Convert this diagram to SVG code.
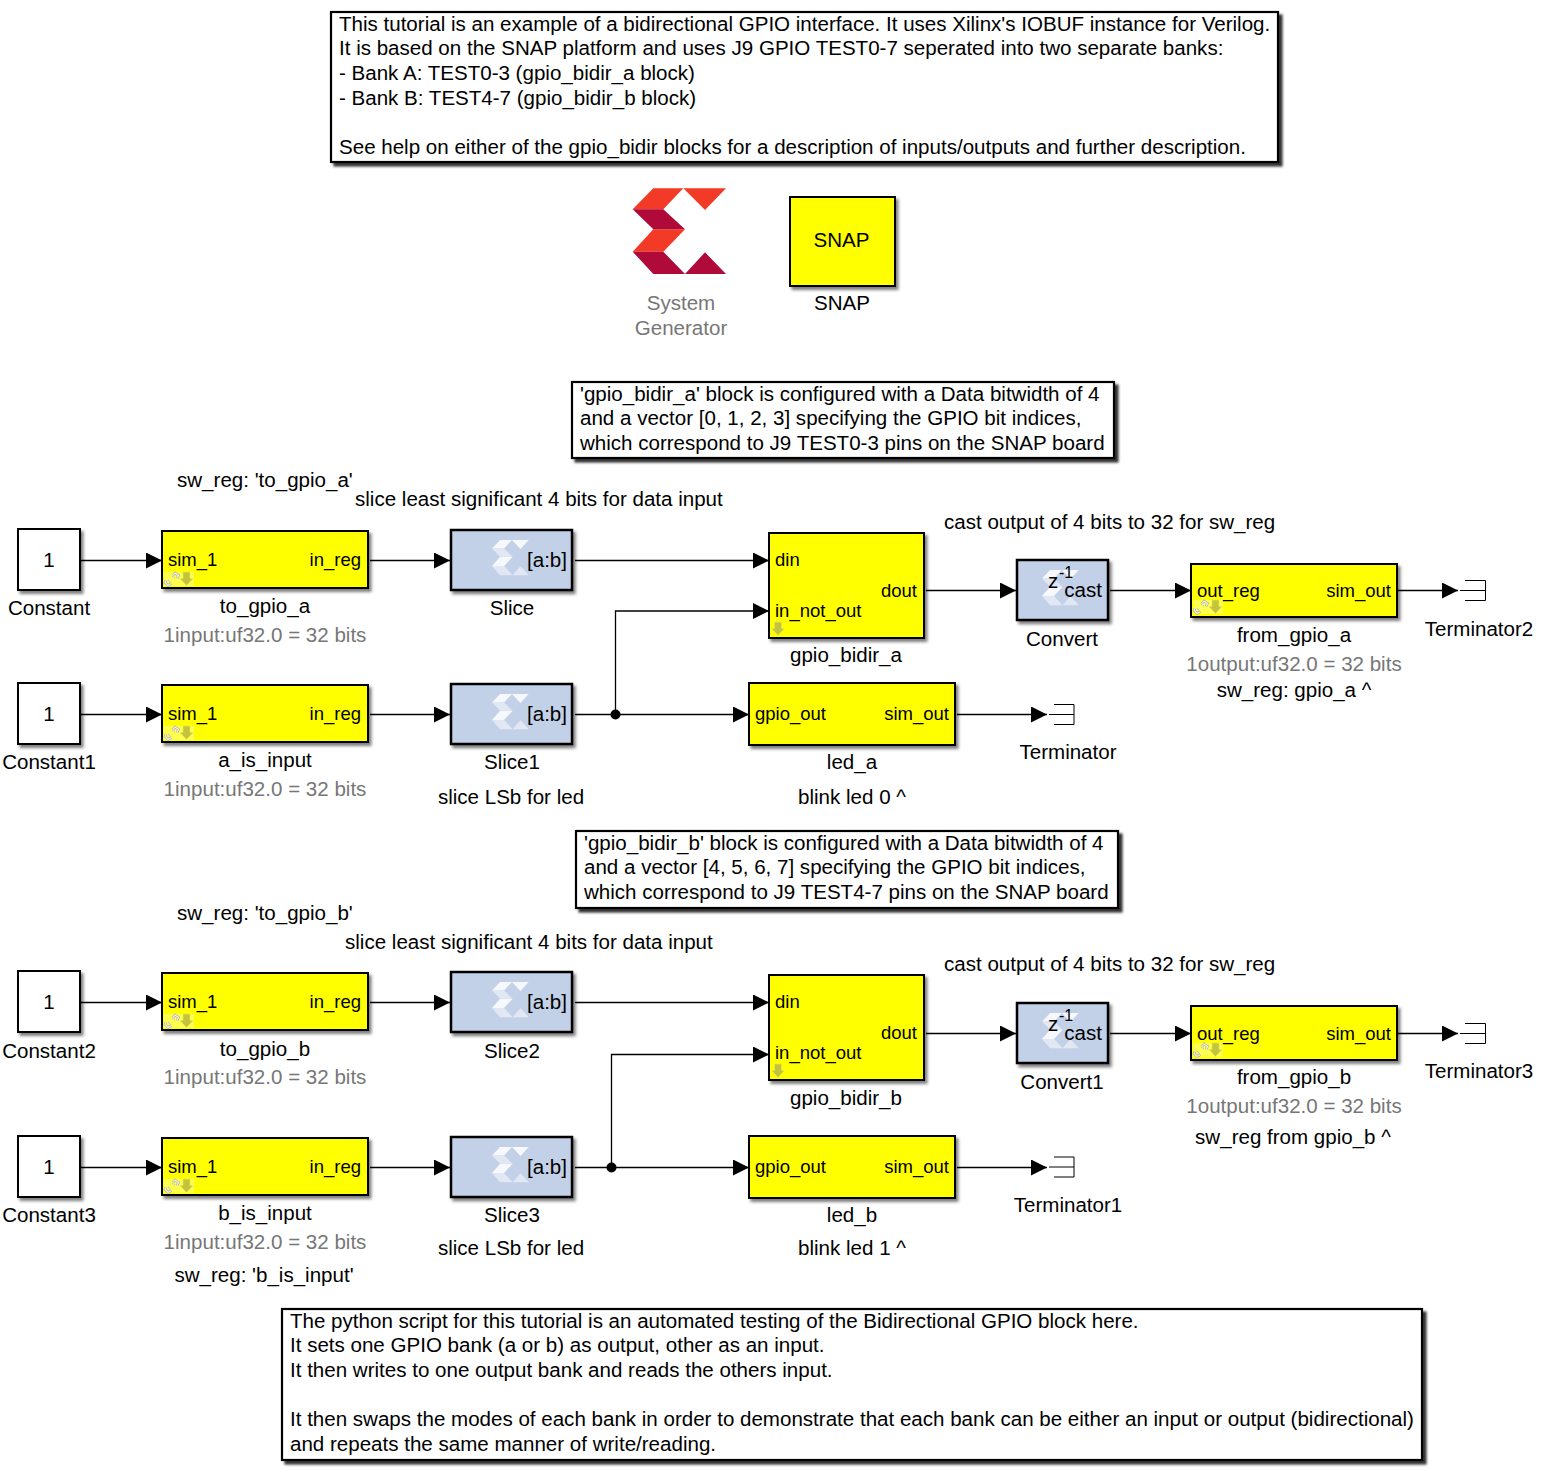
<svg xmlns="http://www.w3.org/2000/svg" width="1543" height="1471" viewBox="0 0 1543 1471">
<style>
text{font-family:"Liberation Sans",Arial,sans-serif;font-size:20.55px;fill:#000}
.m{text-anchor:middle}
.e{text-anchor:end}
.g{fill:#777}
.p{font-size:18.5px}
.s{font-size:16px}
.n{fill:#fff;stroke:#000;stroke-width:2;filter:url(#sh)}
.d{fill:#fff;stroke:#000;stroke-width:2.2;filter:url(#sd)}
.y{fill:#ff0;stroke:#000;stroke-width:2;filter:url(#sh)}
.b{fill:#c3d1e8;stroke:#000;stroke-width:2.5;filter:url(#sh)}
.c{fill:none;stroke:#000;stroke-width:1.3}
.t{fill:none;stroke:#000;stroke-width:1}
</style>
<defs>
<filter id="sh" x="-10%" y="-10%" width="120%" height="125%"><feDropShadow dx="2.5" dy="3" stdDeviation="1.5" flood-color="#000" flood-opacity="0.5"/></filter>
<filter id="sd" x="-5%" y="-10%" width="110%" height="125%"><feDropShadow dx="3.5" dy="3.5" stdDeviation="1.2" flood-color="#000" flood-opacity="0.8"/></filter>
<marker id="a" markerUnits="userSpaceOnUse" markerWidth="16" markerHeight="16" refX="16" refY="8" orient="auto"><path d="M0 0L16 8L0 16Z" fill="#000"/></marker>
<g id="logo">
<path d="M653.3 188.3H683.3L663.3 209.3H632.7Z M683.3 188.3H726L705 210Z M653.3 229.3H685L663.3 251.7H632.7Z" fill="#f33a27"/>
<path d="M632.7 209.3H663.3L685 229.3H653.3Z M632.7 251.7H663.3L685 274H653.3Z M685 274L705 252.3L726 274Z" fill="#b00a3a"/>
</g>
<g id="mini" transform="translate(492 540) scale(.394 .41) translate(-632.7 -188.3)">
<path d="M653.3 188.3H683.3L663.3 209.3H632.7Z M683.3 188.3H726L705 210Z M653.3 229.3H685L663.3 251.7H632.7Z" fill="#f6f8fc"/>
<path d="M632.7 209.3H663.3L685 229.3H653.3Z M632.7 251.7H663.3L685 274H653.3Z M685 274L705 252.3L726 274Z" fill="#e2e8f3"/>
</g>
<path id="dn" d="M-3.5 0H3.5V6.5H6.5L0 13.5L-6.5 6.5H-3.5Z" fill="#c4c43a" stroke="#e6e65a" stroke-width=".7"/>
<path id="lp" d="M2 8.5L1 10.5L4 13.5L7.5 11.5 M9 3.5L11 1L14.5 3.5L13 6.5 M4.5 9.5L5.5 8.5 M9 5.5L10 4.5"/>
<g id="ic"><rect x="0" y="0" width="30" height="14" fill="#ffff80" opacity=".6"/><use href="#lp" fill="none" stroke="#b5b5a5" stroke-width="2.6"/><use href="#lp" fill="none" stroke="#f2f2e8" stroke-width="1.1"/><use href="#dn" x="22.5" y="0"/></g>
</defs>

<g id="connectors">
<path class="c" marker-end="url(#a)" d="M81 560.5H162"/>
<path class="c" marker-end="url(#a)" d="M370 560.5H450"/>
<path class="c" marker-end="url(#a)" d="M575 560.5H769"/>
<path class="c" marker-end="url(#a)" d="M926 590.5H1016"/>
<path class="c" marker-end="url(#a)" d="M1110 590.5H1191"/>
<path class="c" marker-end="url(#a)" d="M1398 590.5H1458"/>
<path class="c" marker-end="url(#a)" d="M81 714.5H162"/>
<path class="c" marker-end="url(#a)" d="M370 714.5H450"/>
<path class="c" marker-end="url(#a)" d="M575 714.5H749"/>
<path class="c" marker-end="url(#a)" d="M615.5 714.5V611H769"/>
<path class="c" marker-end="url(#a)" d="M957 714.5H1047"/>
<circle cx="615.5" cy="714.5" r="5" fill="#000"/>
<path class="c" marker-end="url(#a)" d="M81 1002.5H162"/>
<path class="c" marker-end="url(#a)" d="M370 1002.5H450"/>
<path class="c" marker-end="url(#a)" d="M575 1002.5H769"/>
<path class="c" marker-end="url(#a)" d="M926 1033.5H1016"/>
<path class="c" marker-end="url(#a)" d="M1110 1033.5H1191"/>
<path class="c" marker-end="url(#a)" d="M1398 1033.5H1458"/>
<path class="c" marker-end="url(#a)" d="M81 1167.5H162"/>
<path class="c" marker-end="url(#a)" d="M370 1167.5H450"/>
<path class="c" marker-end="url(#a)" d="M575 1167.5H749"/>
<path class="c" marker-end="url(#a)" d="M611.5 1167.5V1054.5H769"/>
<path class="c" marker-end="url(#a)" d="M957 1167.5H1047"/>
<circle cx="611.5" cy="1167.5" r="5" fill="#000"/>
</g>

<g id="note_top">
<rect class="d" x="331" y="12" width="947" height="150"/>
<text x="339" y="31">This tutorial is an example of a bidirectional GPIO interface. It uses Xilinx's IOBUF instance for Verilog.</text>
<text x="339" y="55">It is based on the SNAP platform and uses J9 GPIO TEST0-7 seperated into two separate banks:</text>
<text x="339" y="80">- Bank A: TEST0-3 (gpio_bidir_a block)</text>
<text x="339" y="105">- Bank B: TEST4-7 (gpio_bidir_b block)</text>
<text x="339" y="154">See help on either of the gpio_bidir blocks for a description of inputs/outputs and further description.</text>
</g>
<g id="sysgen">
<use href="#logo"/>
<text class="m g" x="681" y="310">System</text>
<text class="m g" x="681" y="335">Generator</text>
</g>
<g id="snap">
<rect class="y" x="790" y="197" width="105" height="89"/>
<text class="m" x="841.5" y="247">SNAP</text>
<text class="m" x="842" y="310">SNAP</text>
</g>

<g id="note_a">
<rect class="d" x="572" y="382" width="542" height="76"/>
<text x="580" y="401">'gpio_bidir_a' block is configured with a Data bitwidth of 4</text>
<text x="580" y="425">and a vector [0, 1, 2, 3] specifying the GPIO bit indices,</text>
<text x="580" y="450">which correspond to J9 TEST0-3 pins on the SNAP board</text>
</g>
<g id="labels_a">
<text x="177" y="487">sw_reg: 'to_gpio_a'</text>
<text x="355" y="506">slice least significant 4 bits for data input</text>
<text x="944" y="529">cast output of 4 bits to 32 for sw_reg</text>
</g>

<g id="Constant"><rect class="n" x="18" y="529" width="62" height="61"/><text class="m" x="49" y="567">1</text><text class="m" x="49" y="615">Constant</text></g>
<g id="to_gpio_a"><rect class="y" x="162" y="531" width="206" height="57"/><text class="p" x="168" y="566">sim_1</text><text class="p e" x="361" y="566">in_reg</text><use href="#ic" x="164" y="572"/><text class="m" x="265" y="613">to_gpio_a</text><text class="m g" x="265" y="642">1input:uf32.0 = 32 bits</text></g>
<g id="Slice"><rect class="b" x="451" y="530" width="121" height="60"/><use href="#mini"/><text class="e" x="567" y="567">[a:b]</text><text class="m" x="512" y="615">Slice</text></g>
<g id="gpio_bidir_a"><rect class="y" x="769" y="533" width="155" height="105"/><text class="p" x="775" y="566">din</text><text class="p e" x="917" y="597">dout</text><text class="p" x="775" y="617">in_not_out</text><use href="#dn" x="778" y="622"/><text class="m" x="846" y="662">gpio_bidir_a</text></g>
<g id="Convert"><rect class="b" x="1017" y="560" width="91" height="60"/><use href="#mini" x="550" y="30"/><text x="1048" y="588">z</text><text class="s" x="1059" y="578">-1</text><text class="e" x="1102" y="597">cast</text><text class="m" x="1062" y="646">Convert</text></g>
<g id="from_gpio_a"><rect class="y" x="1191" y="564" width="206" height="53"/><text class="p" x="1197" y="597">out_reg</text><text class="p e" x="1391" y="597">sim_out</text><use href="#ic" x="1193" y="600"/><text class="m" x="1294" y="642">from_gpio_a</text><text class="m g" x="1294" y="671">1output:uf32.0 = 32 bits</text><text class="m" x="1294" y="697">sw_reg: gpio_a ^</text></g>
<g id="Terminator2"><path class="t" d="M1460 590.5H1485.5M1465 580.5H1485.5V600.5H1465"/><text class="m" x="1479" y="636">Terminator2</text></g>

<g id="Constant1"><rect class="n" x="18" y="683" width="62" height="61"/><text class="m" x="49" y="721">1</text><text class="m" x="49" y="769">Constant1</text></g>
<g id="a_is_input"><rect class="y" x="162" y="685" width="206" height="57"/><text class="p" x="168" y="720">sim_1</text><text class="p e" x="361" y="720">in_reg</text><use href="#ic" x="164" y="726"/><text class="m" x="265" y="767">a_is_input</text><text class="m g" x="265" y="796">1input:uf32.0 = 32 bits</text></g>
<g id="Slice1"><rect class="b" x="451" y="684" width="121" height="60"/><use href="#mini" y="154"/><text class="e" x="567" y="721">[a:b]</text><text class="m" x="512" y="769">Slice1</text><text class="m" x="511" y="804">slice LSb for led</text></g>
<g id="led_a"><rect class="y" x="749" y="683" width="206" height="62"/><text class="p" x="755" y="720">gpio_out</text><text class="p e" x="949" y="720">sim_out</text><text class="m" x="852" y="769">led_a</text><text class="m" x="852" y="804">blink led 0 ^</text></g>
<g id="Terminator"><path class="t" d="M1049 714.5H1074M1054 704.5H1074V724.5H1054"/><text class="m" x="1068" y="759">Terminator</text></g>

<g id="note_b">
<rect class="d" x="576" y="831" width="542" height="77"/>
<text x="584" y="850">'gpio_bidir_b' block is configured with a Data bitwidth of 4</text>
<text x="584" y="874">and a vector [4, 5, 6, 7] specifying the GPIO bit indices,</text>
<text x="584" y="899">which correspond to J9 TEST4-7 pins on the SNAP board</text>
</g>
<g id="labels_b">
<text x="177" y="920">sw_reg: 'to_gpio_b'</text>
<text x="345" y="949">slice least significant 4 bits for data input</text>
<text x="944" y="971">cast output of 4 bits to 32 for sw_reg</text>
</g>

<g id="Constant2"><rect class="n" x="18" y="971" width="62" height="61"/><text class="m" x="49" y="1009">1</text><text class="m" x="49" y="1058">Constant2</text></g>
<g id="to_gpio_b"><rect class="y" x="162" y="973" width="206" height="57"/><text class="p" x="168" y="1008">sim_1</text><text class="p e" x="361" y="1008">in_reg</text><use href="#ic" x="164" y="1014"/><text class="m" x="265" y="1056">to_gpio_b</text><text class="m g" x="265" y="1084">1input:uf32.0 = 32 bits</text></g>
<g id="Slice2"><rect class="b" x="451" y="972" width="121" height="60"/><use href="#mini" y="442"/><text class="e" x="567" y="1009">[a:b]</text><text class="m" x="512" y="1058">Slice2</text></g>
<g id="gpio_bidir_b"><rect class="y" x="769" y="975" width="155" height="105"/><text class="p" x="775" y="1008">din</text><text class="p e" x="917" y="1039">dout</text><text class="p" x="775" y="1059">in_not_out</text><use href="#dn" x="778" y="1064"/><text class="m" x="846" y="1105">gpio_bidir_b</text></g>
<g id="Convert1"><rect class="b" x="1017" y="1003" width="91" height="60"/><use href="#mini" x="550" y="473"/><text x="1048" y="1031">z</text><text class="s" x="1059" y="1021">-1</text><text class="e" x="1102" y="1040">cast</text><text class="m" x="1062" y="1089">Convert1</text></g>
<g id="from_gpio_b"><rect class="y" x="1191" y="1006" width="206" height="54"/><text class="p" x="1197" y="1040">out_reg</text><text class="p e" x="1391" y="1040">sim_out</text><use href="#ic" x="1193" y="1043"/><text class="m" x="1294" y="1084">from_gpio_b</text><text class="m g" x="1294" y="1113">1output:uf32.0 = 32 bits</text><text class="m" x="1293" y="1144">sw_reg from gpio_b ^</text></g>
<g id="Terminator3"><path class="t" d="M1460 1033.5H1485.5M1465 1023.5H1485.5V1043.5H1465"/><text class="m" x="1479" y="1078">Terminator3</text></g>

<g id="Constant3"><rect class="n" x="18" y="1136" width="62" height="61"/><text class="m" x="49" y="1174">1</text><text class="m" x="49" y="1222">Constant3</text></g>
<g id="b_is_input"><rect class="y" x="162" y="1138" width="206" height="57"/><text class="p" x="168" y="1173">sim_1</text><text class="p e" x="361" y="1173">in_reg</text><use href="#ic" x="164" y="1179"/><text class="m" x="265" y="1220">b_is_input</text><text class="m g" x="265" y="1249">1input:uf32.0 = 32 bits</text><text class="m" x="264" y="1282">sw_reg: 'b_is_input'</text></g>
<g id="Slice3"><rect class="b" x="451" y="1137" width="121" height="60"/><use href="#mini" y="607"/><text class="e" x="567" y="1174">[a:b]</text><text class="m" x="512" y="1222">Slice3</text><text class="m" x="511" y="1255">slice LSb for led</text></g>
<g id="led_b"><rect class="y" x="749" y="1136" width="206" height="62"/><text class="p" x="755" y="1173">gpio_out</text><text class="p e" x="949" y="1173">sim_out</text><text class="m" x="852" y="1222">led_b</text><text class="m" x="852" y="1255">blink led 1 ^</text></g>
<g id="Terminator1"><path class="t" d="M1049 1167H1074M1054 1157H1074V1177H1054"/><text class="m" x="1068" y="1212">Terminator1</text></g>

<g id="note_bottom">
<rect class="d" x="282" y="1309" width="1140" height="151"/>
<text x="290" y="1328">The python script for this tutorial is an automated testing of the Bidirectional GPIO block here.</text>
<text x="290" y="1352">It sets one GPIO bank (a or b) as output, other as an input.</text>
<text x="290" y="1377">It then writes to one output bank and reads the others input.</text>
<text x="290" y="1426">It then swaps the modes of each bank in order to demonstrate that each bank can be either an input or output (bidirectional)</text>
<text x="290" y="1451">and repeats the same manner of write/reading.</text>
</g>
</svg>
